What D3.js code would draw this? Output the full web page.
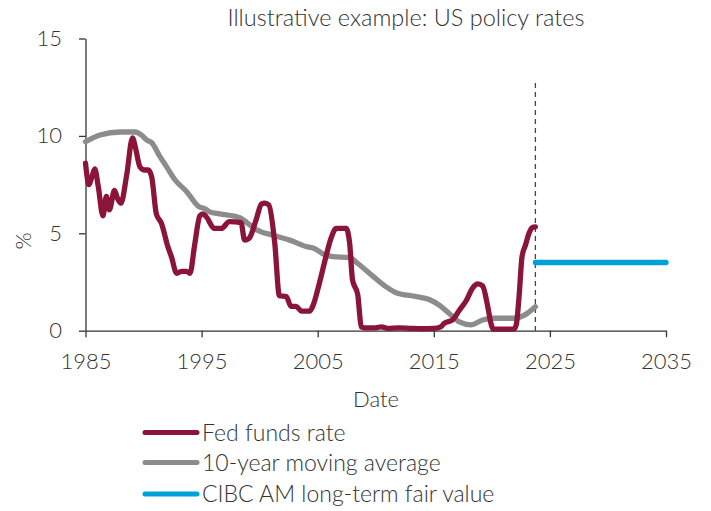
<!DOCTYPE html>
<html>
<head>
<meta charset="utf-8">
<script src="https://cdn.jsdelivr.net/npm/d3@7"></script>
<style>
  html, body { margin: 0; padding: 0; background: #fff; }
  svg text { font-family: Lato, "Open Sans", sans-serif; font-weight: 300; fill: #333; }
</style>
</head>
<body>
<svg id="chart" width="711" height="511"></svg>
<script>
// ---- Data ----
const fedYears = [1985.0,1985.3,1985.55,1985.8,1986.1,1986.5,1986.8,1987.05,1987.5,1987.75,1988.05,1988.55,1989.05,1989.3,1989.7,1990.1,1990.4,1990.7,1991.1,1991.55,1992.1,1992.4,1992.85,1993.3,1993.7,1994.0,1994.4,1994.85,1995.1,1995.4,1996.1,1996.7,1997.4,1998.4,1998.7,1999.1,1999.7,2000.15,2000.45,2000.8,2001.3,2001.7,2002.3,2002.7,2003.15,2003.6,2004.3,2004.6,2005.15,2005.75,2006.15,2006.6,2007.45,2007.75,2008.0,2008.45,2008.75,2009.0,2010.0,2010.5,2011.0,2012.0,2013.0,2014.0,2015.0,2015.6,2015.9,2016.6,2017.2,2017.8,2018.35,2018.8,2019.2,2019.65,2019.92,2020.1,2021.9,2022.1,2022.35,2022.6,2022.9,2023.2,2023.5,2023.75];
const fedValues = [8.6,7.5,7.9,8.3,7.4,5.9,6.9,6.2,7.2,6.8,6.55,8.0,9.9,9.4,8.4,8.25,8.25,7.9,6.0,5.5,4.3,3.8,2.95,3.05,3.05,2.95,4.4,5.9,6.0,5.85,5.25,5.25,5.6,5.55,4.65,4.75,5.7,6.5,6.55,6.45,4.5,1.8,1.75,1.25,1.25,1.0,1.0,1.3,2.45,3.9,4.75,5.25,5.25,4.5,2.6,1.85,0.2,0.15,0.15,0.2,0.12,0.15,0.12,0.1,0.12,0.2,0.38,0.55,1.05,1.55,2.2,2.4,2.3,1.23,0.38,0.08,0.08,0.3,1.8,3.8,4.4,5.0,5.3,5.33];

const maYears = [1985.0,1986.25,1988.0,1989.25,1989.8,1990.25,1990.7,1991.4,1992.0,1992.7,1993.7,1994.7,1995.3,1995.7,1996.55,1998.3,1999.0,1999.7,2001.15,2002.6,2004.15,2004.6,2005.6,2006.3,2007.75,2008.45,2009.75,2010.9,2011.75,2013.5,2014.6,2015.5,2016.3,2017.2,2018.2,2019.2,2020.05,2022.05,2022.8,2023.75];
const maValues = [9.7,10.05,10.2,10.2,10.05,9.8,9.65,8.95,8.4,7.75,7.15,6.4,6.25,6.1,6.0,5.8,5.5,5.2,4.9,4.65,4.3,4.25,3.9,3.8,3.75,3.45,2.8,2.25,1.95,1.75,1.6,1.3,0.9,0.45,0.3,0.55,0.64,0.64,0.8,1.23];

const fairYears = [2023.75, 2035];
const fairValues = [3.5, 3.5];

const cutoffYear = 2023.75;
const xTicks = [1985, 1995, 2005, 2015, 2025, 2035];
const yTicks = [0, 5, 10, 15];
const seriesNames = ["Fed funds rate", "10-year moving average", "CIBC AM long-term fair value"];
const seriesColors = ["#8a1538", "#8c8c8c", "#00a1d9"];
const titleText = "Illustrative example: US policy rates";

// ---- Drawing ----
const svg = d3.select("#chart");
const x = d3.scaleLinear().domain([1985, 2035]).range([85.5, 666]);
const y = d3.scaleLinear().domain([0, 15]).range([330.7, 38.5]);

const line = d3.line().x(d => x(d[0])).y(d => y(d[1])).curve(d3.curveMonotoneX);
const zip = (a, b) => a.map((v, i) => [v, b[i]]);

// title
svg.append("text").attr("x", 406).attr("y", 26).attr("text-anchor", "middle")
  .style("font-size", "23.5px").text(titleText);

// y axis
const yAxis = svg.append("g").attr("transform", "translate(85.5,0)")
  .call(d3.axisLeft(y).tickValues(yTicks).tickFormat(d3.format("d")).tickSize(6.5).tickSizeOuter(0).tickPadding(17));
yAxis.selectAll("text").style("font-size", "22px").attr("fill", "#333");
// x axis
const xAxis = svg.append("g").attr("transform", "translate(0,330.7)")
  .call(d3.axisBottom(x).tickValues(xTicks).tickFormat(d3.format("d")).tickSize(6.5).tickSizeOuter(0).tickPadding(16));
xAxis.selectAll("text").style("font-size", "22px").attr("fill", "#333");
svg.selectAll(".domain, .tick line").attr("stroke", "#333").attr("stroke-width", 1.3);

// axis titles
svg.append("text").attr("x", 376).attr("y", 407).attr("text-anchor", "middle")
  .style("font-size", "22px").text("Date");
svg.append("text").attr("transform", "translate(31,241) rotate(-90)").attr("text-anchor", "middle")
  .style("font-size", "22px").text("%");

// cutoff dashed line
svg.append("line")
  .attr("x1", x(cutoffYear)).attr("x2", x(cutoffYear))
  .attr("y1", 83).attr("y2", y(0))
  .attr("stroke", "#444").attr("stroke-width", 1.3).attr("stroke-dasharray", "5,4");

// series
const data = [zip(maYears, maValues), zip(fedYears, fedValues), zip(fairYears, fairValues)];
const colorsOrder = [seriesColors[1], seriesColors[0], seriesColors[2]];
data.forEach((d, i) => {
  svg.append("path").datum(d).attr("d", line)
    .attr("fill", "none").attr("stroke", colorsOrder[i])
    .attr("stroke-width", 5.3).attr("stroke-linejoin", "round").attr("stroke-linecap", "round");
});

// legend
const legendY = [432.5, 462.5, 494];
seriesNames.forEach((name, i) => {
  const g = svg.append("g").attr("transform", `translate(0,${legendY[i]})`);
  g.append("line").attr("x1", 145).attr("x2", 197).attr("y1", 0).attr("y2", 0)
    .attr("stroke", seriesColors[i]).attr("stroke-width", 5).attr("stroke-linecap", "round");
  g.append("text").attr("x", 202).attr("y", 0).attr("dy", "0.35em")
    .style("font-size", "23px").text(name);
});
</script>
</body>
</html>
